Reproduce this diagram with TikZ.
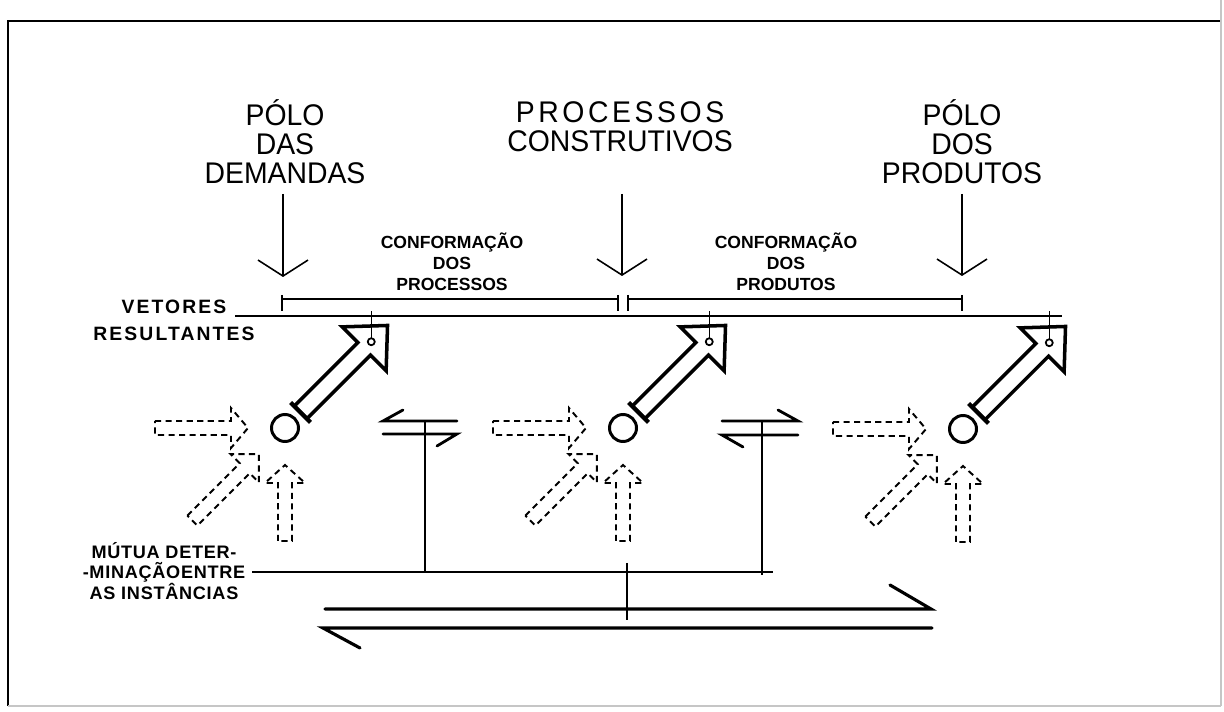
\documentclass[tikz,border=0pt]{standalone}
\usepackage{fontspec}
\setmainfont{Liberation Sans}
\newfontfamily\headfont[FakeStretch=0.95]{Liberation Sans}
\newfontfamily\labfont{Liberation Sans}
\newfontfamily\widefont[LetterSpace=11]{Liberation Sans}
\newfontfamily\midfont[LetterSpace=4]{Liberation Sans}
\newfontfamily\spacedfont[FakeStretch=0.95,LetterSpace=12]{Liberation Sans}
\usepackage{tikz}
\usetikzlibrary{arrows.meta, calc}

\tikzset{
  head/.style={font=\headfont\fontsize{17}{16.5}\selectfont, align=center, inner sep=0pt},
  conf/.style={font=\labfont\bfseries\fontsize{10}{11.9}\selectfont, align=center, inner sep=0pt},
  vlab/.style={font=\widefont\bfseries\fontsize{11}{15.3}\selectfont, align=center, inner sep=0pt},
  mlab/.style={font=\midfont\bfseries\fontsize{10.3}{11.6}\selectfont, align=center, inner sep=0pt},
}

\begin{document}
\begin{tikzpicture}[x=0.02cm, y=-0.02cm,
    thinline/.style={line width=0.8pt},
    drop/.style={line width=0.9pt, -{Straight Barb[length=3.2mm, width=10mm]}},
    pole/.style={circle, draw, line width=1.7pt, minimum size=0.54cm, inner sep=0pt},
    flow/.style={draw, line width=1.1pt, dash pattern=on 3.5pt off 2.5pt, line join=miter},
    result/.style={draw, line width=2pt, line join=miter},
    harp/.style={line width=1.6pt, line cap=round},
    bigharp/.style={line width=1.8pt, line cap=round}]
  \useasboundingbox (0,0) rectangle (1224,712);

  % frame
  \draw[line width=0.9pt] (8,706) -- (8,21) -- (1221,21);
  \draw[gray!45, line width=0.6pt] (8,706) -- (1221,706) (1221,0) -- (1221,706);

  % the three instances
  \node[head] (h1) at (285,142) {PÓLO\\DAS\\DEMANDAS};
  \node[head] (h2) at (620,127) {{\spacedfont PROCESSOS}\\CONSTRUTIVOS};
  \node[head] (h3) at (962,142) {PÓLO\\DOS\\PRODUTOS};

  \coordinate (t1) at (283,194); \coordinate (p1) at (283,277);
  \coordinate (t2) at (622,194); \coordinate (p2) at (622,276);
  \coordinate (t3) at (962,194); \coordinate (p3) at (962,276);
  \draw[drop] (t1) -- (p1);
  \draw[drop] (t2) -- (p2);
  \draw[drop] (t3) -- (p3);

  % conformation intervals
  \node[conf] (f1) at (452,262) {CONFORMAÇÃO\\DOS\\PROCESSOS};
  \node[conf] (f2) at (786,262) {CONFORMAÇÃO\\DOS\\PRODUTOS};
  \coordinate (ia) at (282,299); \coordinate (ib) at (618,299);
  \coordinate (ic) at (628,299); \coordinate (id) at (962,299);
  \draw[thinline] (ia) -- (ib) (ic) -- (id);
  \foreach \q in {ia,ib,ic,id}
    \draw[thinline] ($(\q)+(0,-4)$) -- ($(\q)+(0,12)$);

  % resultant vectors line
  \node[vlab] (vr) at (174,320) {VETORES\\RESULTANTES};
  \coordinate (rl) at (235,316); \coordinate (rr) at (1062,316);
  \coordinate (rtop) at (0,311);
  \draw[thinline] (rl) -- (rr);

  % poles with incoming and resultant arrows
  \node[pole] (c1) at (285,428) {};
  \node[pole] (c2) at (623,428) {};
  \node[pole] (c3) at (963,429) {};
  \foreach \c in {c1,c2,c3} {
    \foreach \a/\l/\b in {0/130/54, 45/131/57, 90/113/55}
      \draw[flow, shift={(\c)}, rotate=\a] (-\l,-7) -- (-\b,-7) -- (-\b,-20)
        -- (-37,0) -- (-\b,20) -- (-\b,7) -- (-\l,7) -- cycle;
    \begin{scope}[shift={(\c)}, rotate=45]
      \draw[result] (22,-9) -- (112,-9) -- (112,-31) -- (145,0)
        -- (112,31) -- (112,9) -- (22,9) -- cycle;
      \draw[line width=2.4pt] (22,-14) -- (22,14);
      \coordinate (\c-dot) at (122,0);
    \end{scope}
    \draw[thinline] (\c-dot) -- (\c-dot |- rtop);
    \draw[line width=1pt, fill=white] (\c-dot) circle[radius=0.07cm];
  }

  % exchanges between neighbouring instances
  \draw[harp] (457,421) -- (383,421) -- (403,410);
  \draw[harp] (383,434) -- (457,434) -- (437,446);
  \draw[harp] (722,421) -- (798,421) -- (778,410);
  \draw[harp] (798,435) -- (722,435) -- (743,447);

  % mutual determination
  \node[mlab] (md) at (164,571) {MÚTUA DETER-\\-MINAÇÃOENTRE\\AS INSTÂNCIAS};
  \coordinate (ml) at (252,572); \coordinate (mr) at (773,572);
  \coordinate (ea) at (425,421); \coordinate (eb) at (762,421);
  \draw[thinline] (ml) -- (mr);
  \draw[thinline] (ea) -- (ea |- ml);
  \draw[thinline] (eb) -- ($(eb |- ml)+(0,3)$);

  \coordinate (mc) at (627,563); \coordinate (mb) at (627,620);
  \draw[thinline] (mc) -- (mb);
  \draw[bigharp] (325,609) -- (931,609) -- (890,585);
  \draw[bigharp] (932,628) -- (323,628) -- (360,648);
\end{tikzpicture}
\end{document}
